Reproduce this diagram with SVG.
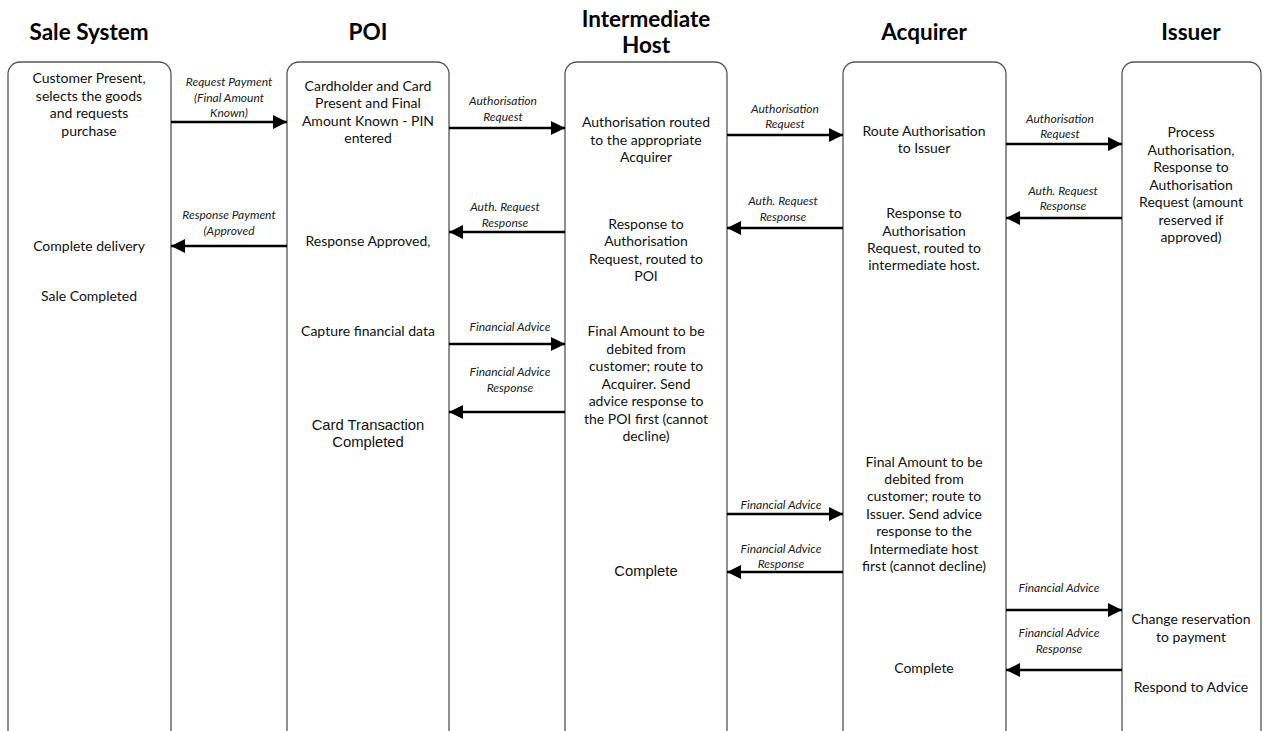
<svg xmlns="http://www.w3.org/2000/svg" width="1264" height="731" viewBox="0 0 1264 731">
<style>
.hdr{font-family:Lato,"Open Sans",sans-serif;font-weight:bold;font-size:22.5px;fill:#000;text-anchor:middle}
.t{font-family:Lato,"Open Sans",sans-serif;font-size:14px;fill:#111;text-anchor:middle}
.a{font-family:"Liberation Sans",Arial,sans-serif;font-size:14.8px;fill:#111;text-anchor:middle}
.l{font-family:Lato,"Open Sans",sans-serif;font-style:italic;font-size:12px;fill:#222;text-anchor:middle}
.box{fill:#fff;stroke:#555;stroke-width:1.3}
.c{stroke:#000;stroke-width:2.5;fill:none;marker-end:url(#ah)}
</style>
<defs>
<marker id="ah" viewBox="0 0 14 14" refX="14" refY="7" markerWidth="14" markerHeight="14" markerUnits="userSpaceOnUse" orient="auto">
<path d="M0,0 L14,7 L0,14 Z" fill="#000"/>
</marker>
</defs>
<rect width="1264" height="731" fill="#fff"/>
<g id="sale">
<text class="hdr" x="89" y="40">Sale System</text>
<rect class="box" x="8" y="62" width="163" height="680" rx="12"/>
<text class="t" x="89" y="83">Customer Present,</text>
<text class="t" x="89" y="101">selects the goods</text>
<text class="t" x="89" y="118">and requests</text>
<text class="t" x="89" y="136">purchase</text>
<text class="t" x="89" y="251">Complete delivery</text>
<text class="t" x="89" y="301">Sale Completed</text>
</g>
<g id="poi">
<text class="hdr" x="368" y="40">POI</text>
<rect class="box" x="287" y="62" width="162" height="680" rx="12"/>
<text class="t" x="368" y="91">Cardholder and Card</text>
<text class="t" x="368" y="108">Present and Final</text>
<text class="t" x="368" y="126">Amount Known - PIN</text>
<text class="t" x="368" y="143">entered</text>
<text class="t" x="368" y="246">Response Approved,</text>
<text class="t" x="368" y="336">Capture financial data</text>
<text class="a" x="368" y="430">Card Transaction</text>
<text class="a" x="368" y="447">Completed</text>
</g>
<g id="ih">
<text class="hdr" x="646" y="27">Intermediate</text>
<text class="hdr" x="646" y="53">Host</text>
<rect class="box" x="565" y="62" width="162" height="680" rx="12"/>
<text class="t" x="646" y="127">Authorisation routed</text>
<text class="t" x="646" y="145">to the appropriate</text>
<text class="t" x="646" y="162">Acquirer</text>
<text class="t" x="646" y="229">Response to</text>
<text class="t" x="646" y="246">Authorisation</text>
<text class="t" x="646" y="264">Request, routed to</text>
<text class="t" x="646" y="281">POI</text>
<text class="t" x="646" y="336">Final Amount to be</text>
<text class="t" x="646" y="354">debited from</text>
<text class="t" x="646" y="371">customer; route to</text>
<text class="t" x="646" y="389">Acquirer. Send</text>
<text class="t" x="646" y="406">advice response to</text>
<text class="t" x="646" y="424">the POI first (cannot</text>
<text class="t" x="646" y="441">decline)</text>
<text class="a" x="646" y="576">Complete</text>
</g>
<g id="acq">
<text class="hdr" x="924" y="40">Acquirer</text>
<rect class="box" x="843" y="62" width="163" height="680" rx="12"/>
<text class="t" x="924" y="136">Route Authorisation</text>
<text class="t" x="924" y="153">to Issuer</text>
<text class="t" x="924" y="218">Response to</text>
<text class="t" x="924" y="236">Authorisation</text>
<text class="t" x="924" y="253">Request, routed to</text>
<text class="t" x="924" y="270">intermediate host.</text>
<text class="t" x="924" y="467">Final Amount to be</text>
<text class="t" x="924" y="484">debited from</text>
<text class="t" x="924" y="501">customer; route to</text>
<text class="t" x="924" y="519">Issuer. Send advice</text>
<text class="t" x="924" y="536">response to the</text>
<text class="t" x="924" y="554">Intermediate host</text>
<text class="t" x="924" y="571">first (cannot decline)</text>
<text class="t" x="924" y="673">Complete</text>
</g>
<g id="iss">
<text class="hdr" x="1191" y="40">Issuer</text>
<rect class="box" x="1122" y="62" width="139" height="680" rx="12"/>
<text class="t" x="1191" y="137">Process</text>
<text class="t" x="1191" y="155">Authorisation,</text>
<text class="t" x="1191" y="172">Response to</text>
<text class="t" x="1191" y="190">Authorisation</text>
<text class="t" x="1191" y="207">Request (amount</text>
<text class="t" x="1191" y="225">reserved if</text>
<text class="t" x="1191" y="242">approved)</text>
<text class="t" x="1191" y="624">Change reservation</text>
<text class="t" x="1191" y="642">to payment</text>
<text class="t" x="1191" y="692">Respond to Advice</text>
</g>
<g id="connectors">
<line class="c" x1="171" y1="122" x2="287" y2="122"/>
<text class="l" x="229" y="86">Request Payment</text>
<text class="l" x="229" y="102">(Final Amount</text>
<text class="l" x="229" y="117">Known)</text>
<line class="c" x1="287" y1="246" x2="171" y2="246"/>
<text class="l" x="229" y="219">Response Payment</text>
<text class="l" x="229" y="235">(Approved</text>
<line class="c" x1="449" y1="128" x2="565" y2="128"/>
<text class="l" x="503" y="105">Authorisation</text>
<text class="l" x="503" y="121">Request</text>
<line class="c" x1="565" y1="232" x2="449" y2="232"/>
<text class="l" x="505" y="211">Auth. Request</text>
<text class="l" x="505" y="227">Response</text>
<line class="c" x1="727" y1="135" x2="843" y2="135"/>
<text class="l" x="785" y="113">Authorisation</text>
<text class="l" x="785" y="128">Request</text>
<line class="c" x1="843" y1="228" x2="727" y2="228"/>
<text class="l" x="783" y="205">Auth. Request</text>
<text class="l" x="783" y="221">Response</text>
<line class="c" x1="1006" y1="144" x2="1122" y2="144"/>
<text class="l" x="1060" y="123">Authorisation</text>
<text class="l" x="1060" y="138">Request</text>
<line class="c" x1="1122" y1="218" x2="1006" y2="218"/>
<text class="l" x="1063" y="195">Auth. Request</text>
<text class="l" x="1063" y="210">Response</text>
<line class="c" x1="449" y1="344" x2="565" y2="344"/>
<text class="l" x="510" y="331">Financial Advice</text>
<line class="c" x1="565" y1="412" x2="449" y2="412"/>
<text class="l" x="510" y="376">Financial Advice</text>
<text class="l" x="510" y="392">Response</text>
<line class="c" x1="727" y1="514" x2="843" y2="514"/>
<text class="l" x="781" y="509">Financial Advice</text>
<line class="c" x1="843" y1="572" x2="727" y2="572"/>
<text class="l" x="781" y="553">Financial Advice</text>
<text class="l" x="781" y="568">Response</text>
<line class="c" x1="1006" y1="610" x2="1122" y2="610"/>
<text class="l" x="1059" y="592">Financial Advice</text>
<line class="c" x1="1122" y1="670" x2="1006" y2="670"/>
<text class="l" x="1059" y="637">Financial Advice</text>
<text class="l" x="1059" y="653">Response</text>
</g>
</svg>
